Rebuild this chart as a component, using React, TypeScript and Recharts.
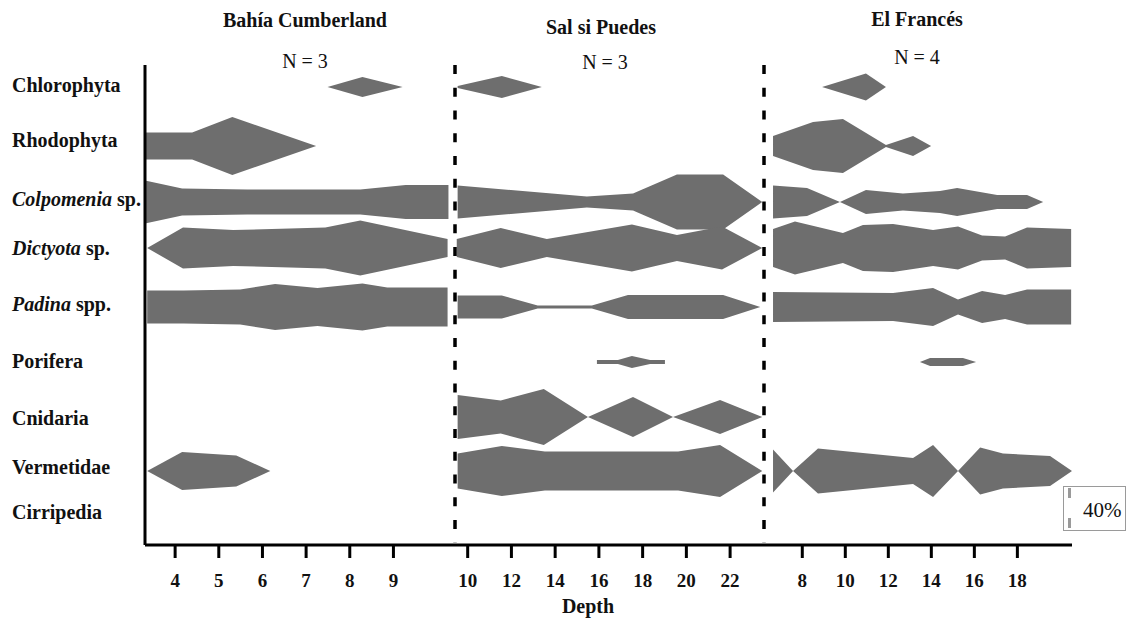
import React from 'react';
import { ComposedChart, Area, XAxis, YAxis, ReferenceLine } from 'recharts';

type Kite = [number, number][] | null; // [depth (m), cover (%)]

const TAXA = ['Chlorophyta', 'Rhodophyta', 'Colpomenia sp.', 'Dictyota sp.', 'Padina spp.', 'Porifera', 'Cnidaria', 'Vermetidae', 'Cirripedia'];
const TAXA_ITALIC = ['', '', 'Colpomenia', 'Dictyota', 'Padina', '', '', '', ''];
const SITES = ['Bahía Cumberland', 'Sal si Puedes', 'El Francés'];
const SITE_N = [3, 3, 4];
const DEPTH_TICKS_CUMBERLAND = [4, 5, 6, 7, 8, 9];
const DEPTH_TICKS_SALSIPUEDES = [10, 12, 14, 16, 18, 20, 22];
const DEPTH_TICKS_FRANCES = [8, 10, 12, 14, 16, 18];
const SCALE_BAR = 40;

// Bahía Cumberland, one kite per taxon (order of TAXA)
const CUMBERLAND: Kite[] = [
  [[7.49, 0], [8.29, 20], [9.21, 0]],
  [[3.31, 27], [4.39, 27], [5.31, 58], [7.23, 0]],
  [[3.31, 43], [4.16, 27], [5.65, 25], [8.24, 25], [9.28, 34], [10.26, 34]],
  [[3.36, 0], [4.18, 41], [5.33, 36], [7.44, 41], [8.24, 55], [10.24, 18]],
  [[3.36, 33], [4.2, 33], [5.49, 35], [6.29, 46], [7.26, 38], [8.29, 47], [8.86, 39], [10.24, 39]],
  null,
  null,
  [[3.36, 0], [4.16, 38], [5.4, 31], [6.18, 0]],
  null,
];

// Sal si Puedes
const SALSIPUEDES: Kite[] = [
  [[9.54, 2], [11.56, 22], [13.39, 0]],
  null,
  [[9.54, 33], [15.45, 11], [17.56, 17], [19.57, 55], [21.68, 55], [23.47, 0]],
  [[9.5, 18], [11.51, 40], [13.62, 18], [17.51, 47], [19.57, 26], [21.63, 43], [23.47, 0]],
  [[9.54, 23], [11.56, 23], [13.2, 3], [15.68, 3], [17.33, 24], [21.68, 24], [23.38, 0]],
  [[15.91, 4], [16.87, 4], [17.51, 12], [18.34, 4], [19.02, 4]],
  [[9.54, 44], [11.51, 33], [13.48, 56], [15.5, 0], [17.56, 40], [19.39, 0], [21.54, 34], [23.47, 0]],
  [[9.54, 35], [11.56, 50], [13.53, 39], [19.62, 39], [21.54, 52], [23.47, 0]],
  null,
];

// El Francés
const FRANCES: Kite[] = [
  [[8.92, 0], [10.96, 27], [11.89, 0]],
  [[6.64, 20], [8.5, 48], [9.89, 54], [11.89, 2], [13.15, 20], [13.99, 0]],
  [[6.64, 33], [8.22, 28], [9.75, 0], [10.96, 24], [12.68, 17], [14.4, 22], [15.2, 28], [17.06, 14], [18.45, 14], [19.2, 0]],
  [[6.64, 38], [7.66, 53], [9.89, 30], [10.82, 46], [12.22, 48], [14.08, 36], [15.24, 43], [16.36, 25], [17.43, 23], [18.45, 41], [20.5, 38]],
  [[6.64, 30], [12.22, 28], [14.08, 38], [15.24, 15], [16.36, 32], [17.43, 24], [18.45, 35], [20.5, 35]],
  [[13.47, 0], [13.94, 8], [15.47, 8], [16.08, 0]],
  null,
  [[6.64, 43], [7.57, 0], [8.73, 45], [13.15, 26], [14.08, 52], [15.24, 0], [16.27, 47], [17.33, 35], [19.52, 30], [20.54, 0]],
  null,
];

// ---- layout (not data) ----
const FONT = '"Liberation Serif", "Times New Roman", serif';
const KITE_FILL = '#6e6e6e';
const ROW_CENTER = [458, 399, 343, 297, 238, 183, 128, 74, 33];
const LABEL_DY = [-2, -6, -3, 0, -3, -1, 1, -4, 0];
const Y_DOMAIN: [number, number] = [0, 480];
const CHART_H = 621;
const MARGIN_TOP = 65;
const XAXIS_H = 76;

const SECTIONS = [
  { kites: CUMBERLAND, ticks: DEPTH_TICKS_CUMBERLAND, domain: [3.31, 10.41] as [number, number], left: 0, width: 455, padLeft: 0, yAxis: true, sep: false },
  { kites: SALSIPUEDES, ticks: DEPTH_TICKS_SALSIPUEDES, domain: [9.42, 23.55] as [number, number], left: 445, width: 319, padLeft: 10, yAxis: false, sep: true },
  { kites: FRANCES, ticks: DEPTH_TICKS_FRANCES, domain: [6.22, 20.54] as [number, number], left: 754, width: 323, padLeft: 10, yAxis: false, sep: true },
];
const TITLE_POS = [
  { x: 305, y: 20, ny: 61, nx: 305 },
  { x: 601, y: 27, ny: 62, nx: 605 },
  { x: 917, y: 19, ny: 57, nx: 917 },
];

function RowTick(props: any) {
  const { y, payload } = props;
  const i = ROW_CENTER.indexOf(payload.value);
  if (i < 0) return <g />;
  const name = TAXA[i];
  const it = TAXA_ITALIC[i];
  return (
    <text x={12} y={y + LABEL_DY[i]} dy="0.35em" textAnchor="start" fontFamily={FONT} fontSize={20} fontWeight={700} fill="#111">
      {it ? (
        <>
          <tspan fontStyle="italic">{it}</tspan>
          <tspan>{name.slice(it.length)}</tspan>
        </>
      ) : (
        name
      )}
    </text>
  );
}

function kiteData(kite: [number, number][], row: number) {
  const c = ROW_CENTER[row];
  return kite.map(([depth, cover]) => ({ depth, band: [c - cover / 2, c + cover / 2] }));
}

function CenterText({ x, y, size, bold, children }: any) {
  return (
    <div
      style={{
        position: 'absolute',
        left: x,
        top: y,
        transform: 'translate(-50%, -50%)',
        whiteSpace: 'nowrap',
        lineHeight: 1,
        fontSize: size,
        fontWeight: bold ? 700 : 400,
        fontFamily: FONT,
        color: '#111',
      }}
    >
      {children}
    </div>
  );
}

export default function App() {
  return (
    <div style={{ position: 'absolute', left: 0, top: 0, width: 1131, height: 621, background: '#fff', overflow: 'hidden' }}>
      {SECTIONS.map((s, si) => (
        <div key={si} style={{ position: 'absolute', left: s.left, top: 0 }}>
          <ComposedChart width={s.width} height={CHART_H} margin={{ top: MARGIN_TOP, right: si === 2 ? 5 : 0, bottom: 0, left: s.padLeft }}>
            <XAxis
              type="number"
              dataKey="depth"
              domain={s.domain}
              allowDataOverflow
              ticks={s.ticks}
              interval={0}
              height={XAXIS_H}
              tickSize={13}
              tickMargin={16}
              axisLine={{ stroke: '#000', strokeWidth: 3 }}
              tickLine={{ stroke: '#000', strokeWidth: 3 }}
              tick={{ fill: '#111', fontSize: 19, fontWeight: 700, fontFamily: FONT }}
            />
            {s.yAxis ? (
              <YAxis
                type="number"
                domain={Y_DOMAIN}
                allowDataOverflow
                ticks={ROW_CENTER}
                interval={0}
                width={145}
                tickLine={false}
                axisLine={{ stroke: '#000', strokeWidth: 3 }}
                tick={RowTick}
              />
            ) : (
              <YAxis type="number" domain={Y_DOMAIN} allowDataOverflow hide />
            )}
            {s.kites.map((k, ri) =>
              k ? (
                <Area
                  key={`k-${si}-${ri}`}
                  data={kiteData(k, ri)}
                  dataKey="band"
                  type="linear"
                  stroke="none"
                  fill={KITE_FILL}
                  fillOpacity={1}
                  dot={false}
                  activeDot={false}
                  isAnimationActive={false}
                />
              ) : null
            )}
            {s.sep && (
              <ReferenceLine
                segment={[
                  { x: s.domain[0], y: Y_DOMAIN[1] },
                  { x: s.domain[0], y: 2 },
                ]}
                stroke="#000"
                strokeWidth={3.5}
                strokeDasharray="9 13.75"
              />
            )}
          </ComposedChart>
        </div>
      ))}

      {SITES.map((name, i) => (
        <React.Fragment key={name}>
          <CenterText x={TITLE_POS[i].x} y={TITLE_POS[i].y} size={20} bold>
            {name}
          </CenterText>
          <CenterText x={TITLE_POS[i].nx} y={TITLE_POS[i].ny} size={20}>
            {`N = ${SITE_N[i]}`}
          </CenterText>
        </React.Fragment>
      ))}

      <CenterText x={588} y={606} size={20} bold>
        Depth
      </CenterText>

      <div
        style={{
          position: 'absolute',
          left: 1063,
          top: 486,
          width: 63,
          height: 45,
          border: '1px solid #9a9a9a',
          boxSizing: 'border-box',
        }}
      >
        <div style={{ position: 'absolute', left: 4, top: 1, width: 3, height: SCALE_BAR / 4, background: '#9a9a9a' }} />
        <div style={{ position: 'absolute', left: 4, top: 1 + SCALE_BAR - SCALE_BAR / 4, width: 3, height: SCALE_BAR / 4, background: '#9a9a9a' }} />
        <span
          style={{
            position: 'absolute',
            left: 19,
            top: 23,
            transform: 'translateY(-50%)',
            lineHeight: 1,
            fontSize: 21,
            fontFamily: FONT,
            color: '#111',
          }}
        >
          40%
        </span>
      </div>
    </div>
  );
}
